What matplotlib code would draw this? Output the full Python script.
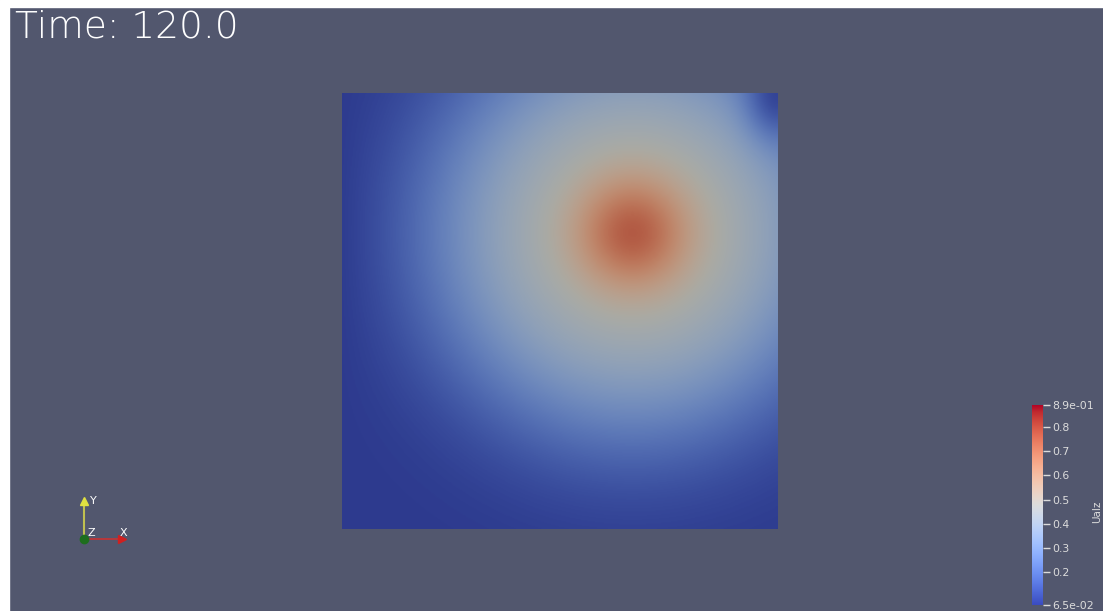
"""Surface render of the scalar field at t = 120 with its colour legend and axes triad."""

import numpy as np
import matplotlib

matplotlib.use("Agg")
import matplotlib.pyplot as plt  # noqa: E402
from matplotlib.patches import Rectangle  # noqa: E402

W, H = 1103, 611
BG = "#52576e"

# field description (unit square, y up)
field_name = "Ualz"
time_value = 120.0
vmin, vmax = 0.065, 0.89
blob_center = (0.667, 0.68)
blob_amp, blob_width = 0.33, 0.13          # normalised amplitude / width of the hot spot
halo_amp, halo_width = 0.50, 0.47          # broad background hump around it
left_wall_drop, left_wall_width = 0.7, 0.05
corner_center = (1.0, 1.0)                 # cold patch at the top-right corner
corner_depth, corner_size = 0.85, (0.07, 0.10)

bar_ticks = [0.065, 0.2, 0.3, 0.4, 0.5, 0.6, 0.7, 0.8, 0.89]
bar_labels = ["6.5e-02", "0.2", "0.3", "0.4", "0.5", "0.6", "0.7", "0.8", "8.9e-01"]

shade = np.array([0.77, 0.77, 0.74])  # diffuse lighting on the surface


def px(x0, y0, x1, y1):
    """pixel box (top-left origin) -> figure fraction rect"""
    return [x0 / W, 1 - y1 / H, (x1 - x0) / W, (y1 - y0) / H]


n = 400
u, v = np.meshgrid(np.linspace(0, 1, n), np.linspace(0, 1, n))
d = np.hypot(u - blob_center[0], v - blob_center[1])
norm = halo_amp * np.exp(-(d / halo_width) ** 3) + blob_amp * np.exp(-(d / blob_width) ** 2)
norm *= 1 - left_wall_drop * np.exp(-u / left_wall_width)
cx = (u - corner_center[0]) / corner_size[0]
cy = (v - corner_center[1]) / corner_size[1]
norm *= 1 - corner_depth * np.exp(-(cx ** 2 + cy ** 2))
field = vmin + norm * (vmax - vmin)

cmap = plt.get_cmap("coolwarm")
rgb = cmap((field - vmin) / (vmax - vmin))[..., :3] * shade

fig = plt.figure(figsize=(W / 100, H / 100), dpi=100, facecolor=BG)
# white border strips left/top of the view
fig.patches.append(Rectangle((0, 0), 9 / W, 1, transform=fig.transFigure, color="white", zorder=0))
fig.patches.append(Rectangle((0, 1 - 7 / H), 1, 7 / H, transform=fig.transFigure, color="white", zorder=0))

ax = fig.add_axes(px(342, 93, 778, 529))
ax.imshow(rgb, origin="lower", extent=[0, 1, 0, 1], aspect="auto", interpolation="bilinear")
ax.set_axis_off()

fig.text(15 / W, 1 - 37 / H, f"Time: {time_value:.1f}", color="white", fontsize=27,
         family=["DejaVu Sans"], fontweight="light", va="baseline")

# colour legend
cax = fig.add_axes(px(1032, 405, 1043, 605))
grad = np.linspace(vmin, vmax, 256)[:, None]
cax.imshow(grad, cmap=cmap, vmin=vmin, vmax=vmax, origin="lower", aspect="auto",
           extent=[0, 1, vmin, vmax])
cax.set_xticks([])
cax.yaxis.tick_right()
cax.set_yticks(bar_ticks)
cax.set_yticklabels(bar_labels)
cax.tick_params(axis="y", colors="#dcdcdc", labelsize=7.8, length=5, width=1, pad=2)
for s in cax.spines.values():
    s.set_visible(False)
fig.text(1097 / W, 1 - 512 / H, field_name, rotation=90, color="#dcdcdc", fontsize=7.5,
         ha="center", va="center")

# orientation triad
tax = fig.add_axes(px(84, 497, 126, 539))
tax.set_xlim(0, 1)
tax.set_ylim(0, 1)
tax.set_axis_off()
tax.plot([0, 0.85], [0, 0], color="#c83232", lw=1.2, clip_on=False)
tax.plot([0, 0], [0, 0.85], color="#c0c050", lw=1.5, clip_on=False)
tax.plot([0.9], [0], marker=">", color="#d02020", ms=6, clip_on=False)
tax.plot([0], [0.9], marker="^", color="#e0e040", ms=6, clip_on=False)
tax.plot([0], [0], marker="o", color="#1e6e1e", ms=6, clip_on=False)
tax.text(0.14, 0.9, "Y", color="white", fontsize=8, va="center", ha="left")
tax.text(0.95, 0.15, "X", color="white", fontsize=8, va="center", ha="center")
tax.text(0.17, 0.15, "Z", color="white", fontsize=8, va="center", ha="center")

fig.savefig("out.png", dpi=100, facecolor=BG)
